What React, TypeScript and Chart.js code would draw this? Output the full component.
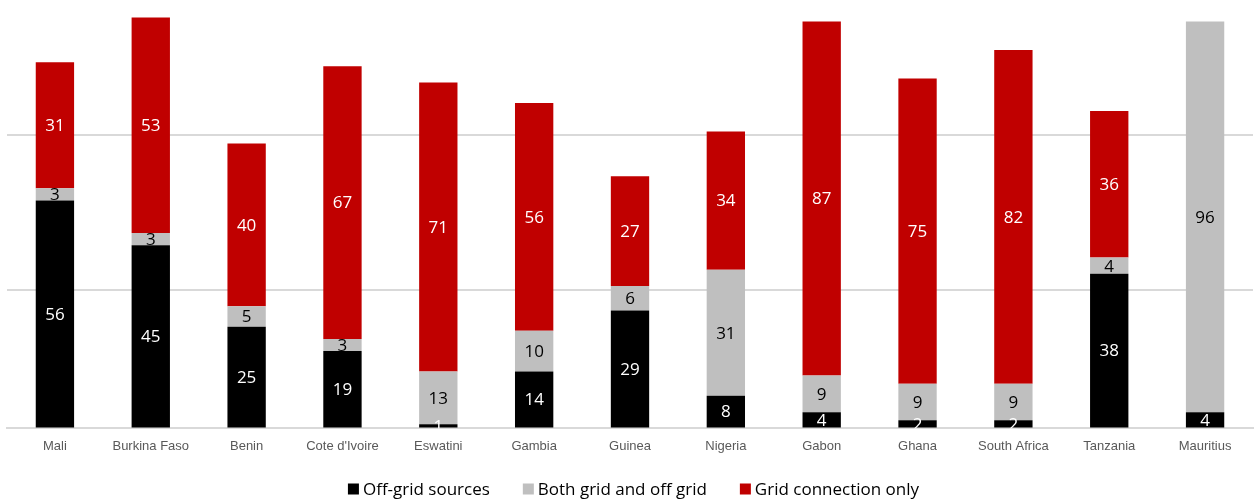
import React, { useEffect, useRef } from "react";
import { Chart, registerables } from "chart.js";

Chart.register(...registerables);

const categories = ["Mali", "Burkina Faso", "Benin", "Cote d'Ivoire", "Eswatini", "Gambia", "Guinea", "Nigeria", "Gabon", "Ghana", "South Africa", "Tanzania", "Mauritius"];
const offGrid = [56, 45, 25, 19, 1, 14, 29, 8, 4, 2, 2, 38, 4];
const both = [3, 3, 5, 3, 13, 10, 6, 31, 9, 9, 9, 4, 96];
const gridOnly = [31, 53, 40, 67, 71, 56, 27, 34, 87, 75, 82, 36, null];
const gridTicks = [0, 34, 72];

const labelColors = ["#ffffff", "#000000", "#ffffff"];

const dataLabels = {
  id: "dataLabels",
  afterDatasetsDraw(chart: any) {
    const ctx = chart.ctx;
    const area = chart.chartArea;
    ctx.save();
    ctx.beginPath();
    ctx.rect(area.left, area.top, area.right - area.left, area.bottom - area.top);
    ctx.clip();
    ctx.font = "17px 'Open Sans'";
    ctx.textAlign = "center";
    ctx.textBaseline = "middle";
    chart.data.datasets.forEach((ds: any, i: number) => {
      const meta = chart.getDatasetMeta(i);
      meta.data.forEach((bar: any, j: number) => {
        const v = ds.data[j];
        if (v == null) return;
        const y = (bar.y + bar.base) / 2;
        ctx.fillStyle = labelColors[i];
        ctx.fillText(String(v), bar.x, y + 1);
      });
    });
    ctx.restore();
  },
};

const customLegend = {
  id: "customLegend",
  afterDraw(chart: any) {
    const ctx = chart.ctx;
    ctx.save();
    ctx.font = "17px 'Open Sans'";
    ctx.textBaseline = "middle";
    ctx.textAlign = "left";
    const box = 11;
    const gapBox = 4;
    const gapItem = 33;
    const items = chart.data.datasets.map((ds: any) => ({
      text: ds.label,
      color: ds.backgroundColor,
      w: ctx.measureText(ds.label).width,
    }));
    const total = items.reduce((s: number, it: any) => s + box + gapBox + it.w, 0) + gapItem * (items.length - 1);
    let x = chart.width / 2 + 6 - total / 2;
    const y = 489;
    items.forEach((it: any) => {
      ctx.fillStyle = it.color;
      ctx.fillRect(x, y - box / 2, box, box);
      x += box + gapBox;
      ctx.fillStyle = "#000000";
      ctx.fillText(it.text, x, y + 1);
      x += it.w + gapItem;
    });
    ctx.restore();
  },
};

export default function App() {
  const ref = useRef<HTMLCanvasElement>(null);
  useEffect(() => {
    const chart = new Chart(ref.current!, {
      type: "bar",
      data: {
        labels: categories,
        datasets: [
          { label: "Off-grid sources", data: offGrid, backgroundColor: "#000000" },
          { label: "Both grid and off grid", data: both, backgroundColor: "#bfbfbf" },
          { label: "Grid connection only", data: gridOnly as any, backgroundColor: "#c00000" },
        ],
      },
      options: {
        animation: false,
        responsive: false,
        maintainAspectRatio: false,
        layout: { padding: { left: 7, right: 2, top: 0, bottom: 35 } },
        datasets: { bar: { barPercentage: 0.4, categoryPercentage: 1 } },
        scales: {
          x: {
            stacked: true,
            grid: { display: false, drawTicks: false },
            border: { color: "#d9d9d9", width: 2 },
            ticks: { color: "#595959", font: { family: "'Liberation Sans', Arial", size: 13 }, padding: 10, maxRotation: 0, autoSkip: false },
          },
          y: {
            stacked: true,
            min: 0,
            max: 105.3,
            afterBuildTicks: (axis: any) => {
              axis.ticks = gridTicks.map((v) => ({ value: v }));
            },
            grid: { color: "#d9d9d9", lineWidth: 2, drawTicks: false },
            border: { display: false },
            ticks: { display: false },
          },
        },
        plugins: {
          legend: { display: false },
          tooltip: { enabled: false },
        },
      },
      plugins: [dataLabels, customLegend],
    });
    return () => chart.destroy();
  }, []);
  return (
    <div style={{ position: "fixed", left: 0, top: 0, width: 1255, height: 499, background: "#fff" }}>
      <canvas ref={ref} width={1255} height={499} />
    </div>
  );
}
